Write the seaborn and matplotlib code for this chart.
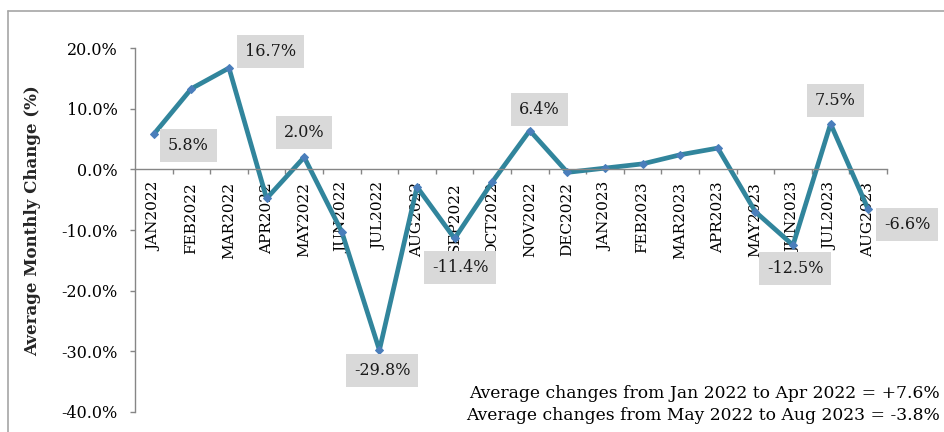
import matplotlib
matplotlib.use("Agg")
import matplotlib.pyplot as plt
from matplotlib.ticker import FuncFormatter, FixedLocator
import seaborn as sns
import pandas as pd

sns.set_theme(style="white")
plt.rcParams['font.family'] = ['DejaVu Serif']

# --- data ---
months = ['JAN2022', 'FEB2022', 'MAR2022', 'APR2022', 'MAY2022', 'JUN2022',
          'JUL2022', 'AUG2022', 'SEP2022', 'OCT2022', 'NOV2022', 'DEC2022',
          'JAN2023', 'FEB2023', 'MAR2023', 'APR2023', 'MAY2023', 'JUN2023',
          'JUL2023', 'AUG2023']
change = [5.8, 13.3, 16.7, -4.8, 2.0, -10.3, -29.8, -2.9, -11.4, -2.1, 6.4,
          -0.5, 0.2, 0.9, 2.4, 3.5, -7.0, -12.5, 7.5, -6.6]

# labelled points and where the grey box sits (offset in points)
label_months = ['JAN2022', 'MAR2022', 'MAY2022', 'JUL2022', 'SEP2022',
                'NOV2022', 'JUN2023', 'JUL2023', 'AUG2023']
label_offsets = [(25, -8.5), (30, 12), (0, 18), (2, -14.5), (4, -21),
                 (7, 15), (1.5, -17), (3.5, 16.5), (28, -11)]

notes = ['Average changes from Jan 2022 to Apr 2022 = +7.6%',
         'Average changes from May 2022 to Aug 2023 = -3.8%']

df = pd.DataFrame({'Month': months, 'Change': change})

fig = plt.figure(figsize=(9.44, 4.32), dpi=100)
ax = fig.add_axes([135 / 944, 1 - 412 / 432, 752 / 944, 364 / 432])

sns.lineplot(data=df, x='Month', y='Change', ax=ax, color='#31859c',
             linewidth=3.4, marker='D', markersize=4,
             markerfacecolor='#4a7ebb', markeredgecolor='#4a7ebb', sort=False)

axis_grey = '#868686'
ax.set_xlim(-0.5, len(months) - 0.5)
ax.set_ylim(-40, 20)
ax.set_yticks([-40, -30, -20, -10, 0, 10, 20])
ax.yaxis.set_major_formatter(FuncFormatter(lambda v, p: f'{v:.1f}%'))

ax.spines['top'].set_visible(False)
ax.spines['right'].set_visible(False)
ax.spines['bottom'].set_position(('data', 0))
for s in ['left', 'bottom']:
    ax.spines[s].set_color(axis_grey)
    ax.spines[s].set_linewidth(1.0)

# category labels at centres, tick marks at the boundaries
ax.xaxis.set_minor_locator(FixedLocator([i + 0.5 for i in range(len(months))]))
ax.tick_params(axis='x', which='major', length=0, pad=9, labelsize=11,
               labelrotation=90, labelcolor='black')
ax.tick_params(axis='x', which='minor', bottom=True, length=3.6,
               color=axis_grey, width=1)
ax.tick_params(axis='y', which='major', left=True, length=3.6, width=1,
               color=axis_grey, labelsize=11.5, pad=9, labelcolor='black')
for lbl in ax.get_xticklabels():
    lbl.set_verticalalignment('top')

ax.set_xlabel('')
ax.set_ylabel('Average Monthly Change (%)', fontsize=12, fontweight='bold')
ax.yaxis.set_label_coords(-0.125, 0.527)

for m, off in zip(label_months, label_offsets):
    i = months.index(m)
    ax.annotate(f'{change[i]:.1f}%', xy=(i, change[i]), xytext=off,
                textcoords='offset points', ha='center', va='center',
                fontsize=11.5, color='#1a1a1a',
                bbox=dict(boxstyle='square,pad=0.5', fc='#d9d9d9', ec='none'),
                annotation_clip=False)

fig.text(940 / 944, 1 - 393 / 432, notes[0], ha='right', va='center',
         fontsize=12.3, color='black')
fig.text(940 / 944, 1 - 415 / 432, notes[1], ha='right', va='center',
         fontsize=12.3, color='black')

# chart area border (partly outside the picture, as in the reference)
border_grey = '#a6a6a6'
fig.add_artist(plt.Line2D([8 / 944, 1.0], [1 - 11 / 432, 1 - 11 / 432],
                          transform=fig.transFigure, color=border_grey, lw=1.2))
fig.add_artist(plt.Line2D([8 / 944, 8 / 944], [1 - 11 / 432, 0.0],
                          transform=fig.transFigure, color=border_grey, lw=1.2))

fig.savefig('out.png', dpi=100)
